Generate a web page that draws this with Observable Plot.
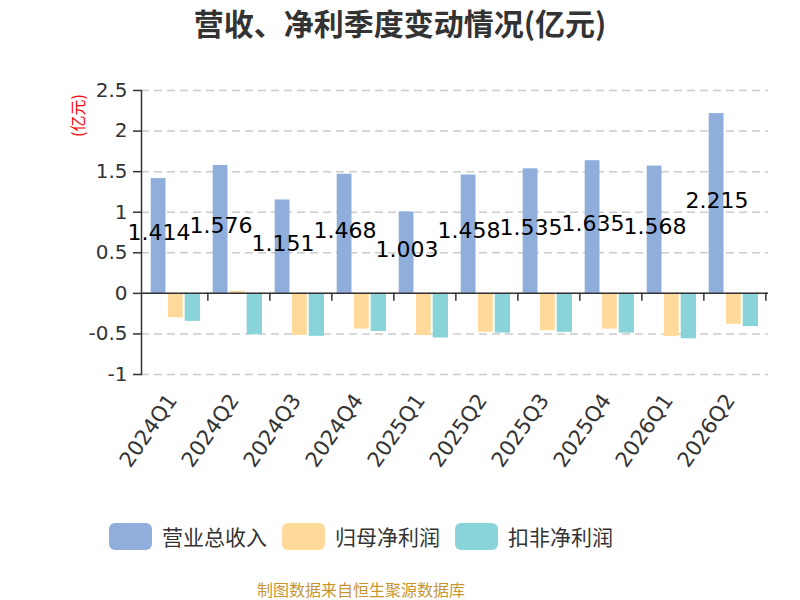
<!DOCTYPE html>
<html>
<head>
<meta charset="utf-8">
<script src="https://cdn.jsdelivr.net/npm/d3@7"></script>
<script src="https://cdn.jsdelivr.net/npm/@observablehq/plot@0.6"></script>
<style>
  html, body { margin: 0; padding: 0; background: #fff; }
  body { width: 800px; height: 600px; position: relative; overflow: hidden; font-family: "Noto Sans CJK SC", sans-serif; }
  #title { position: absolute; top: 3px; left: 0; width: 800px; text-align: center; font-size: 30px; font-weight: bold; color: #333; line-height: 38px; }
  #chart { position: absolute; top: 0; left: 0; }
  #legend { position: absolute; top: 521px; left: 109px; display: flex; align-items: center; font-size: 21px; color: #333; }
  .item { display: flex; align-items: center; margin-right: 15px; }
  .sw { width: 43px; height: 27px; border-radius: 6px; margin-right: 10px; }
  #footer { position: absolute; top: 577px; left: 211px; width: 300px; text-align: center; font-size: 16px; line-height: 24px; color: #C9952F; white-space: nowrap; }
</style>
</head>
<body>
<div id="title">营收、净利季度变动情况(亿元)</div>
<div id="chart"></div>
<div id="legend"></div>
<div id="footer">制图数据来自恒生聚源数据库</div>
<script>
const quarters = ["2024Q1","2024Q2","2024Q3","2024Q4","2025Q1","2025Q2","2025Q3","2025Q4","2026Q1","2026Q2"];
const revenue = [1.414,1.576,1.151,1.468,1.003,1.458,1.535,1.635,1.568,2.215];
const netProfit = [-0.30,0.025,-0.52,-0.44,-0.52,-0.48,-0.46,-0.44,-0.53,-0.38];
const deductedProfit = [-0.345,-0.51,-0.53,-0.47,-0.55,-0.49,-0.48,-0.49,-0.56,-0.41];
const yTicks = [-1,-0.5,0,0.5,1,1.5,2,2.5];
const seriesNames = ["营业总收入","归母净利润","扣非净利润"];
const colors = ["#8FAEDB","#FFD999","#88D4D8"];

const rows = quarters.map((q, i) => ({q, rev: revenue[i], net: netProfit[i], ded: deductedProfit[i]}));

const W = 800, H = 480, mL = 141, mR = 32, mT = 90, mB = 106;
const step = (W - mL - mR) / quarters.length;
const numFont = "'DejaVu Sans', 'Noto Sans CJK SC', sans-serif";

const plot = Plot.plot({
  width: W, height: H,
  marginLeft: mL, marginRight: mR, marginTop: mT, marginBottom: mB,
  style: {fontFamily: numFont, fontSize: "20px", color: "#333", background: "transparent"},
  x: {domain: quarters, padding: 0},
  y: {domain: [-1, 2.5]},
  marks: [
    Plot.gridY(yTicks, {stroke: "#ccc", strokeOpacity: 1, strokeWidth: 1.5, strokeDasharray: "8,5"}),
    Plot.barY(rows, {x: "q", y: "rev", fill: colors[0], insetLeft: 5.7, insetRight: 41.5}),
    Plot.barY(rows, {x: "q", y: "net", fill: colors[1], insetLeft: 23, insetRight: 24.3}),
    Plot.barY(rows, {x: "q", y: "ded", fill: colors[2], insetLeft: 39.7, insetRight: 7}),
    Plot.ruleY([0], {stroke: "#333", strokeWidth: 1.5}),
    Plot.ruleX(quarters, {x: d => d, y1: 0, y2: 0, dx: step / 2, insetBottom: -8, stroke: "#333", strokeWidth: 1.5}),
    Plot.frame({anchor: "left", stroke: "#333", strokeWidth: 1.5}),
    Plot.axisY(yTicks, {tickSize: 8, tickPadding: 6, tickFormat: d => String(d), fontSize: 20, stroke: "#333", strokeWidth: 1.5, fill: "#333", label: null}),
    Plot.axisX({tickSize: 0, tickPadding: 22, dx: -4, tickRotate: -55, fontSize: 21, fill: "#333", label: null}),
    Plot.text(rows, {x: "q", y: d => d.rev / 2, text: d => d3.format(".3f")(d.rev), dx: -17.5, dy: -3, fontSize: 22, fill: "#000"}),
    Plot.text(["(亿元)"], {frameAnchor: "top-left", textAnchor: "middle", lineAnchor: "middle", rotate: -90, dx: -63, dy: 25, fill: "red", fontSize: 16, fontFamily: "'Noto Sans CJK SC', sans-serif"})
  ]
});
document.getElementById("chart").appendChild(plot);

const legend = document.getElementById("legend");
seriesNames.forEach((name, i) => {
  const it = document.createElement("div");
  it.className = "item";
  const sw = document.createElement("div");
  sw.className = "sw";
  sw.style.background = colors[i];
  const tx = document.createElement("span");
  tx.textContent = name;
  it.appendChild(sw); it.appendChild(tx);
  legend.appendChild(it);
});
</script>
</body>
</html>
